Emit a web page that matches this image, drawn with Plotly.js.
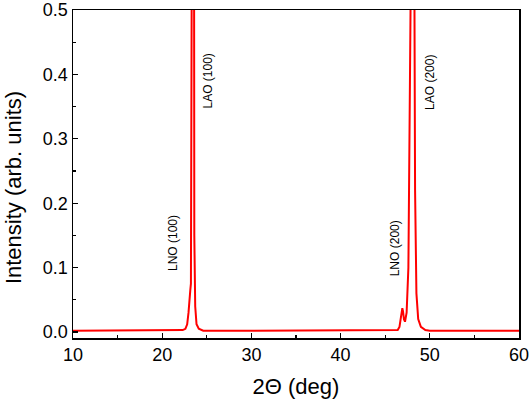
<!DOCTYPE html>
<html>
<head>
<meta charset="utf-8">
<script src="https://cdn.plot.ly/plotly-3.0.1.min.js"></script>
<style>
  html, body { margin: 0; padding: 0; background: #ffffff; }
  #chart { width: 532px; height: 409px; }
</style>
</head>
<body>
<div id="chart"></div>
<script>
// 2θ scan (deg) and intensity (arb. units)
const twoTheta = [
    10, 15, 20, 21.5, 22.3, 22.6, 22.8, 22.95, 23.05, 23.15, 23.22, 23.3, 23.42,
    23.52, 23.6, 23.7, 23.85, 24.1, 24.6, 30, 35, 40, 45, 46.0, 46.4, 46.6, 46.75,
    46.85, 46.92, 47.0, 47.1, 47.22, 47.4, 47.6, 47.78, 47.87, 47.97, 48.07, 48.17,
    48.27, 48.35, 48.5, 48.7, 49.0, 49.5, 50, 55, 60
];
const intensity = [
    0.002, 0.002, 0.002, 0.002, 0.003, 0.005, 0.012, 0.03, 0.055, 0.065, 0.075, 0.5, 3.0,
    0.6, 0.15, 0.04, 0.012, 0.005, 0.002, 0.002, 0.002, 0.002, 0.002, 0.002, 0.003, 0.008, 0.02,
    0.034, 0.037, 0.032, 0.02, 0.016, 0.03, 0.1, 0.36, 0.55, 1.3, 2.0, 1.3,
    0.55, 0.22, 0.06, 0.02, 0.008, 0.003, 0.002, 0.002, 0.002
];

// peak labels
const peakNames = ['LNO (100)', 'LAO (100)', 'LNO (200)', 'LAO (200)'];
const peakLabelX = [21.2, 25.1, 46.1, 50.0];
const peakLabelY = [0.138, 0.39, 0.13, 0.388];

const FONT = 'Arial, "Liberation Sans", sans-serif';

const trace = {
    x: twoTheta,
    y: intensity,
    type: 'scatter',
    mode: 'lines',
    line: { color: '#ff0000', width: 2 },
    showlegend: false
};

const axisBase = {
    showgrid: false,
    zeroline: false,
    showline: true,
    linecolor: '#000000',
    linewidth: 1.5,
    mirror: true,
    ticks: 'inside',
    ticklen: 5,
    tickwidth: 1.2,
    tickcolor: '#000000',
    tickfont: { family: FONT, size: 18, color: '#000000' }
};

const peakNotes = peakNames.map((name, i) => ({
    x: peakLabelX[i],
    y: peakLabelY[i],
    text: name,
    textangle: -90,
    showarrow: false,
    font: { family: FONT, size: 12, color: '#000000' }
}));

// y title as a note, it sits a bit below the plot middle in the original
const yTitle = {
    xref: 'paper',
    yref: 'paper',
    x: -0.1345,
    y: 0.457,
    xanchor: 'center',
    yanchor: 'middle',
    text: 'Intensity (arb. units)',
    textangle: -90,
    showarrow: false,
    font: { family: FONT, size: 22, color: '#000000' }
};

const layout = {
    width: 532,
    height: 409,
    margin: { l: 73, r: 13, t: 10, b: 71 },
    paper_bgcolor: '#ffffff',
    plot_bgcolor: '#ffffff',
    xaxis: Object.assign({}, axisBase, {
        range: [10, 60],
        dtick: 10,
        minor: { dtick: 5, ticks: 'inside', ticklen: 3, tickcolor: '#000000' },
        title: { text: '2Θ (deg)', font: { family: FONT, size: 22, color: '#000000' }, standoff: 14 }
    }),
    yaxis: Object.assign({}, axisBase, {
        range: [-0.0093, 0.5],
        dtick: 0.1,
        tickformat: '.1f',
        minor: { dtick: 0.05, ticks: 'inside', ticklen: 3, tickcolor: '#000000' }
    }),
    annotations: peakNotes.concat([yTitle])
};

Plotly.newPlot('chart', [trace], layout, { displayModeBar: false, staticPlot: true });
</script>
</body>
</html>
